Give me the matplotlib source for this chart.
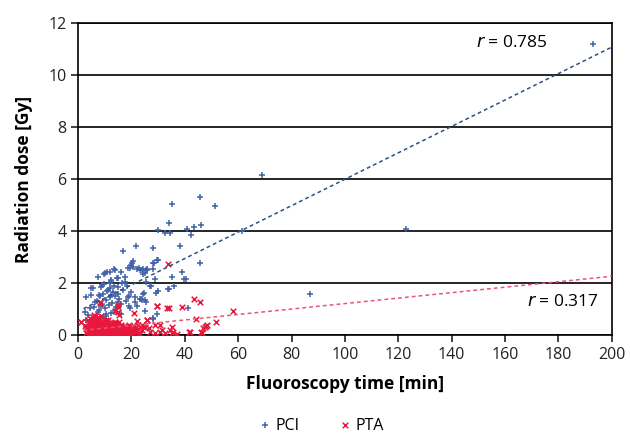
import numpy as np
import matplotlib.pyplot as plt

plt.rcParams['font.family'] = ['Open Sans', 'DejaVu Sans']

# PCI (fluoroscopy time [min], radiation dose [Gy])
pci_time = [193, 69, 123, 87, 61.3, 45.7, 35.2, 51.3, 34.1, 30.0, 32.7, 34.3, 40.8, 43.6, 46.1,
            42.4, 16.7, 21.6, 28.1, 38.3, 45.6, 20.7, 20.1, 28.5, 29.6, 19.5, 22.0, 23.0, 28.2,
            25.5, 13.5, 9.6, 10.7, 24.2, 35.3, 39.1, 39.7, 40.4, 12.5, 14.5, 16.5, 17.5, 25.5,
            27.3, 29.9, 33.8, 36.1, 19.0, 21.5, 24.5, 25.0, 19.1, 22.1, 25.4, 41.3, 28.0, 5.4,
            8.9, 20.0, 30.1, 28.2, 24.5, 26.0, 23.8, 25.7, 28.8, 27.0, 29.2, 34.2, 23.8, 25.1,
            29.7, 28.0, 24.7, 23.3, 18.7, 20.6, 23.1, 25.0, 16.2, 13.7, 11.9, 10.0, 7.5, 15.0,
            12.5, 5.0, 8.7, 17.5, 15.0, 20.0, 23.7, 18.7, 21.2, 19.4, 15.0, 12.5, 11.9, 10.6,
            8.7, 6.2, 4.4, 3.7, 7.5, 10.6, 13.7, 16.2, 3.1, 6.9, 2.5, 3.0, 2.8, 9.5, 11.0, 12.0,
            13.0, 14.0, 9.0, 10.2, 11.5, 12.8, 14.2, 15.5, 8.2, 9.8, 11.2, 13.3, 7.0, 8.0, 6.0,
            9.3, 10.5, 12.2, 13.8, 14.8, 16.0, 17.0, 7.8, 5.6, 4.8, 6.6, 11.8, 17.8, 18.2]
pci_dose = [11.2, 6.15, 4.1, 1.6, 4.0, 5.32, 5.06, 4.96, 4.33, 4.04, 3.93, 3.93, 4.09, 4.17, 4.22,
            3.85, 3.24, 3.44, 3.35, 3.44, 2.76, 2.86, 2.76, 2.76, 2.9, 2.6, 2.53, 2.6, 2.53,
            2.5, 2.56, 2.37, 2.43, 2.36, 2.24, 2.42, 2.17, 2.17, 2.1, 2.2, 2.0, 2.25, 2.05,
            1.88, 1.7, 1.77, 1.88, 1.5, 1.47, 1.58, 1.35, 1.12, 1.14, 1.28, 1.04, 0.67, 1.8,
            1.92, 2.69, 2.91, 2.76, 2.53, 2.53, 2.5, 2.5, 2.15, 1.9, 1.64, 1.77, 1.37, 0.92,
            0.8, 0.64, 1.64, 1.4, 2.59, 2.63, 2.5, 2.41, 2.44, 2.5, 2.44, 2.41, 2.24, 2.18,
            2.12, 1.8, 1.86, 2.05, 1.86, 1.67, 1.41, 1.47, 1.28, 1.03, 1.28, 1.54, 1.8, 1.35,
            1.14, 1.28, 1.03, 0.77, 0.9, 0.83, 0.96, 0.83, 1.47, 0.64, 0.9, 0.6, 0.3, 1.6, 1.7, 1.45,
            1.65, 1.5, 1.2, 1.05, 1.15, 1.25, 1.1, 1.4, 1.5, 1.95, 1.75, 1.9, 1.3, 0.95, 1.1,
            0.7, 0.75, 0.85, 0.9, 1.6, 1.2, 1.75, 1.55, 0.55, 1.55, 0.5, 2.0, 1.3, 1.9]

# PTA - scattered points
pta_time = [33.6, 43.4, 45.7, 29.5, 33.2, 34.2, 39.1, 58.1, 21.1, 25.8, 44.1, 51.8, 47.8, 46.9,
            41.8, 46.1, 29.7, 25.7, 23.8, 25.1, 28.8, 30.7, 35.1, 34.5, 47.6, 48.2, 30.7, 32.6,
            35.1, 35.7, 27.0, 41.7, 46.3, 28.8, 15.1, 14.9, 15.4, 8.2, 5.7, 1.1, 8.1, 7.5, 8.7,
            1.2, 15.0, 22.5, 24.3, 6.0, 13.7]
pta_dose = [2.74, 1.41, 1.27, 1.12, 1.06, 1.04, 1.08, 0.92, 0.86, 0.6, 0.63, 0.5, 0.35, 0.27,
            0.13, 0.13, 1.12, 0.6, 0.38, 0.32, 0.38, 0.41, 0.32, 0.19, 0.32, 0.38, 0.13, 0.07,
            0.07, 0.13, 0.13, 0.13, 0.1, 0.07, 1.1, 0.9, 0.77, 1.28, 0.7, 0.5, 1.24, 0.7, 0.73,
            0.51, 1.15, 0.38, 0.32, 0.77, 0.93]

# PTA - dense cluster near the origin
pta_time_low = [3.0, 3.5, 4.0, 4.2, 4.5, 4.8, 5.0, 5.2, 5.5, 5.8, 6.0, 6.2, 6.5, 6.8, 7.0, 7.2,
                7.5, 7.8, 8.0, 8.3, 8.6, 9.0, 9.3, 9.6, 10.0, 10.3, 10.6, 11.0, 11.3, 11.6, 12.0,
                12.4, 12.8, 13.2, 13.6, 14.0, 14.5, 15.0, 15.5, 16.0, 16.5, 17.0, 17.5, 18.0, 18.6,
                19.2, 19.8, 20.4, 21.0, 21.7, 22.4, 23.2, 24.0, 3.8, 4.6, 5.4, 6.3, 7.1, 7.9, 8.8,
                9.7, 10.5, 11.4, 12.2, 13.0, 13.9, 14.8, 15.8, 16.8, 17.8, 18.8, 19.9, 21.2, 4.3,
                5.1, 6.1, 6.9, 7.7, 8.5, 9.4, 10.2, 11.1, 12.0, 12.9, 13.8, 14.7, 16.2, 17.3, 5.6,
                6.7, 7.4, 8.2, 9.1, 10.8, 11.8, 13.4, 15.2, 18.3, 20.0, 9.9, 7.3, 6.4, 12.6, 2.5,
                26.5, 31.5, 37.0, 20.8, 22.0, 19.0]
pta_dose_low = [0.1, 0.3, 0.05, 0.45, 0.2, 0.35, 0.08, 0.5, 0.25, 0.15, 0.4, 0.05, 0.3, 0.55, 0.12,
                0.42, 0.22, 0.05, 0.35, 0.15, 0.48, 0.28, 0.08, 0.38, 0.18, 0.52, 0.1, 0.32, 0.45,
                0.2, 0.05, 0.4, 0.25, 0.12, 0.35, 0.22, 0.08, 0.3, 0.18, 0.4, 0.1, 0.25, 0.05, 0.33,
                0.15, 0.28, 0.08, 0.2, 0.35, 0.12, 0.25, 0.05, 0.18, 0.6, 0.15, 0.42, 0.02, 0.3,
                0.62, 0.1, 0.25, 0.58, 0.05, 0.38, 0.22, 0.48, 0.02, 0.2, 0.12, 0.3, 0.05, 0.15,
                0.25, 0.65, 0.02, 0.25, 0.18, 0.6, 0.02, 0.22, 0.14, 0.6, 0.28, 0.02, 0.5, 0.35,
                0.15, 0.02, 0.08, 0.45, 0.03, 0.5, 0.2, 0.55, 0.04, 0.48, 0.02, 0.1, 0.02, 0.35,
                0.68, 0.72, 0.1, 0.35, 0.28, 0.2, 0.05, 0.15, 0.55, 0.3]
pta_time_low2 = [3.3, 4.1, 4.9, 5.7, 6.5, 7.4, 8.1, 8.9, 9.5, 10.1, 10.9, 11.7, 12.5, 13.3, 14.1,
                 14.9, 15.7, 16.6, 17.6, 19.5,
                 4.4, 5.3, 6.2, 7.0, 7.9, 8.7, 9.6, 10.4, 11.3, 12.1, 13.0, 13.9, 14.6, 15.4, 16.3,
                 17.1, 18.1, 19.0, 20.6, 22.8]
pta_dose_low2 = [0.22, 0.12, 0.28, 0.02, 0.18, 0.3, 0.1, 0.22, 0.45, 0.05, 0.2, 0.4, 0.06, 0.28, 0.45,
                 0.1, 0.3, 0.22, 0.1, 0.05,
                 0.38, 0.15, 0.08, 0.42, 0.25, 0.02, 0.3, 0.55, 0.12, 0.35, 0.45, 0.05, 0.15, 0.52, 0.1,
                 0.35, 0.25, 0.4, 0.12, 0.08]

# trend lines (slope, intercept)
pci_fit = (0.0508, 0.917)
pta_fit = (0.0105, 0.166)
fit_range = (2, 200)

blue = '#4363a8'
red = '#e8173c'

fig = plt.figure(figsize=(6.3, 4.37), dpi=100)
ax = fig.add_axes([0.124, 0.233, 0.847, 0.714])

pta_x = pta_time + pta_time_low + pta_time_low2
pta_y = pta_dose + pta_dose_low + pta_dose_low2

ax.scatter(pci_time, pci_dose, marker='+', s=22, color=blue, linewidths=1.1, label='PCI', zorder=3)
ax.scatter(pta_x, pta_y, marker='x', s=16, color=red, linewidths=1.1, label='PTA', zorder=4)

xf = np.array(fit_range)
ax.plot(xf, pci_fit[0] * xf + pci_fit[1], ls=(0, (2.5, 2)), color='#2f4f80', lw=1.1, zorder=5)
ax.plot(xf, pta_fit[0] * xf + pta_fit[1], ls=(0, (2.5, 2)), color='#ec5470', lw=1.1, zorder=5)

ax.set_xlim(0, 200)
ax.set_ylim(0, 12)
ax.set_xticks(np.arange(0, 201, 20))
ax.set_yticks(np.arange(0, 13, 2))
ax.yaxis.grid(True, color='black', lw=1.2)
ax.set_axisbelow(True)
for s in ax.spines.values():
    s.set_color('black')
    s.set_linewidth(1.2)
ax.tick_params(direction='out', length=5, width=1.2, labelsize=11.5, colors='#222222')

ax.set_xlabel('Fluoroscopy time [min]', fontsize=12.5, fontweight='bold', labelpad=9)
ax.set_ylabel('Radiation dose [Gy]', fontsize=12.5, fontweight='bold', labelpad=11)

ax.text(0.88, 0.935, '$\\it{r}$ = 0.785', transform=ax.transAxes, ha='right', va='center', fontsize=12.5)
ax.text(0.975, 0.105, '$\\it{r}$ = 0.317', transform=ax.transAxes, ha='right', va='center', fontsize=12.5)

fig.legend(loc='lower center', bbox_to_anchor=(0.51, -0.025), ncol=2, frameon=False,
           fontsize=11.5, handletextpad=0.3, handlelength=0.8, columnspacing=2.4)

fig.savefig('out.png', dpi=100)
